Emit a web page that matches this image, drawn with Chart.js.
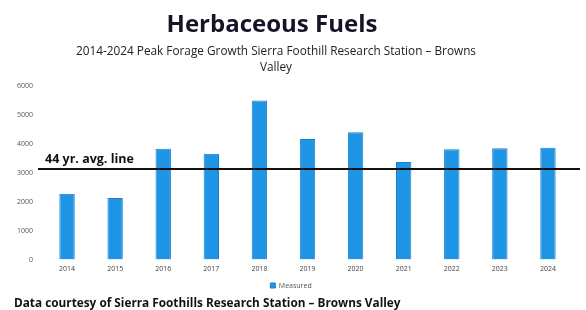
<!DOCTYPE html>
<html>
<head>
<meta charset="utf-8">
<script src="https://cdn.jsdelivr.net/npm/chart.js@4"></script>
<style>
    body { margin: 0; background: #fff; }
    #wrap { position: relative; width: 586px; height: 310px; overflow: hidden; }
    #chart { position: absolute; left: 0; top: 0; }
    .txt { position: absolute; font-family: "Open Sans", sans-serif; color: #111; white-space: nowrap; }
    #title { left: 0; width: 544px; top: 6px; text-align: center; font-size: 24px; font-weight: bold; color: #141428; }
    #subtitle { left: 0; width: 552px; top: 42px; text-align: center; font-size: 11.8px; line-height: 16px; color: #222; }
    #footer { left: 14px; top: 294px; font-size: 11.8px; font-weight: bold; }
</style>
</head>
<body>
<div id="wrap">
    <canvas id="chart" width="586" height="310"></canvas>
    <div id="title" class="txt">Herbaceous Fuels</div>
    <div id="subtitle" class="txt">2014-2024 Peak Forage Growth Sierra Foothill Research Station – Browns<br>Valley</div>
    <div id="footer" class="txt">Data courtesy of Sierra Foothills Research Station – Browns Valley</div>
</div>
<script>
// Chart data
const years = ['2014', '2015', '2016', '2017', '2018', '2019', '2020', '2021', '2022', '2023', '2024'];
const measured = [2275, 2130, 3830, 3655, 5500, 4170, 4405, 3370, 3815, 3850, 3870];
const avgLine = [3130];
const avgLabel = ['44 yr. avg. line'];
const yTicks = [0, 1000, 2000, 3000, 4000, 5000, 6000];

// draws the average line a bit wider than the plot, like the original slide
const avgLinePlugin = {
    id: 'avgLine',
    afterDatasetsDraw(chart) {
        const ctx = chart.ctx;
        const y = chart.scales.y.getPixelForValue(avgLine[0]);
        ctx.save();
        ctx.strokeStyle = '#111';
        ctx.lineWidth = 2;
        ctx.beginPath();
        ctx.moveTo(chart.chartArea.left - 5, y);
        ctx.lineTo(chart.chartArea.right + 8, y);
        ctx.stroke();
        ctx.fillStyle = '#111';
        ctx.font = 'bold 12.5px "Open Sans", sans-serif';
        ctx.textBaseline = 'bottom';
        ctx.fillText(avgLabel[0], chart.chartArea.left + 2, y - 3);
        ctx.restore();
    }
};

new Chart(document.getElementById('chart'), {
    type: 'bar',
    data: {
        labels: years,
        datasets: [{
            label: 'Measured',
            data: measured,
            backgroundColor: '#1f95e6',
            borderColor: '#1a80cc',
            borderWidth: 1,
            categoryPercentage: 1,
            barPercentage: 0.32
        }]
    },
    options: {
        responsive: false,
        animation: false,
        layout: { padding: { left: 10, right: 14, top: 86, bottom: 11 } },
        scales: {
            x: {
                grid: { display: false, drawTicks: false, tickLength: 0 },
                border: { display: false },
                ticks: { color: '#444', font: { family: 'Open Sans', size: 7 }, padding: 5 }
            },
            y: {
                min: 0,
                max: 6000,
                afterFit(scale) { scale.width = 33; },
                afterBuildTicks(scale) { scale.ticks = yTicks.map(v => ({ value: v })); },
                grid: { display: false, drawTicks: false, tickLength: 0 },
                border: { display: false },
                ticks: { color: '#555', font: { family: 'Open Sans', size: 7 }, padding: 10, callback: v => String(v) }
            }
        },
        plugins: {
            legend: {
                position: 'bottom',
                labels: {
                    boxWidth: 5,
                    boxHeight: 5,
                    padding: 4,
                    color: '#555',
                    font: { family: 'Open Sans', size: 7 }
                }
            },
            tooltip: { enabled: false }
        }
    },
    plugins: [avgLinePlugin]
});
</script>
</body>
</html>
